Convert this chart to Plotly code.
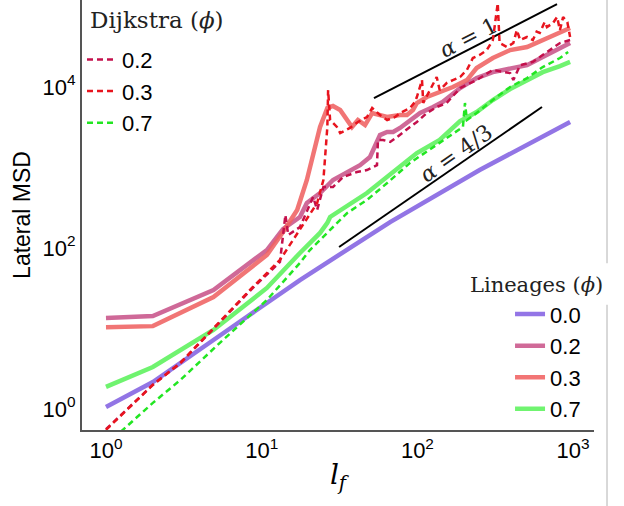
import plotly.graph_objects as go

# ---------------- data ----------------
# Lineages (solid, thick)
lin00_x = [1, 2, 4.9, 10.8, 17.6, 66.8, 251, 956]
lin00_y = [1.06, 2.16, 7.2, 20.7, 40, 210, 930, 3680]

lin02_x = [1, 2, 4.9, 10.8, 13.7, 17.6, 19.5, 23.7, 28.7, 35.4, 42.8, 49.6, 55, 57.5,
           63.9, 69.8, 77.3, 89.6, 104, 126, 145, 188, 240, 305, 394, 506, 638, 823, 956]
lin02_y = [13.5, 14.3, 30.1, 94.4, 172, 243, 362, 482, 700, 879, 1070, 1350, 2010, 2530,
           2760, 2760, 3100, 3890, 4750, 5640, 6510, 9720, 12900, 15300, 17200, 18700,
           23600, 30500, 35200]

lin03_x = [1, 2, 4.9, 10.8, 13.7, 16.9, 19.5, 21.4, 23.7, 26.4, 28.7, 31.9, 35.4, 38,
           41.5, 46.1, 51.2, 55.8, 63.9, 77.3, 85.7, 93.6, 99.2, 115, 139, 169, 208, 240,
           305, 394, 506, 638, 823, 956]
lin03_y = [10.4, 10.7, 24.6, 81.8, 158, 297, 700, 1510, 3190, 5480, 5810, 5180, 3890,
           3190, 3890, 3370, 4750, 4490, 4240, 4490, 4490, 5180, 6330, 7510, 8670, 10000,
           12200, 17200, 22900, 28800, 31400, 38300, 46900, 54100]

lin07_x = [1, 2, 4.9, 10.8, 17.6, 23.7, 26.4, 27.5, 47.4, 69.8, 99.2, 139, 188, 240,
           305, 394, 506, 638, 823, 956]
lin07_y = [1.88, 3.32, 9.58, 31.9, 86.7, 154, 205, 243, 482, 879, 1510, 2200, 3780,
           4890, 6900, 9440, 12200, 15300, 18200, 20500]

# Dijkstra (dashed)
dij02_x = [1, 2, 3, 5.64, 8.78, 13.1, 14.2, 14.8, 17.6, 21.4, 22.7, 24.9, 28.7, 30.4,
           33.4, 40.9, 47.4, 55, 55.8, 60.1, 66.8, 74, 80.8, 89.6, 99.2, 115, 133, 154,
           188, 240, 305, 354, 394, 413, 457, 551, 638, 743, 823, 956]
dij02_y = [0.56, 2.0, 3.7, 13.3, 32, 67, 257, 145, 182, 430, 297, 572, 572, 641, 762,
           879, 931, 1070, 2200, 2200, 2080, 2390, 2760, 3190, 3680, 4750, 5640, 6330,
           9720, 12200, 16300, 15300, 14900, 12200, 18700, 20500, 25000, 31400, 35200,
           38300]

dij03_x = [1, 2, 3, 5.64, 8.78, 13.1, 15.9, 19, 22.7, 24.9, 25.6, 26.4, 26.7, 27.5,
           30.4, 31.9, 36.9, 41.5, 47.4, 51.2, 57.5, 63.9, 71.9, 77.3, 89.6, 96.4, 99.2,
           107, 109, 120, 133, 139, 154, 169, 188, 208, 227, 251, 279, 305, 328, 337,
           376, 413, 435, 457, 506, 551, 583, 610, 657, 679, 743, 789, 823, 862, 918,
           956]
dij03_y = [0.55, 1.99, 3.73, 13.5, 32.8, 71, 126, 210, 362, 700, 1510, 3190, 9180,
           3890, 3190, 2680, 3100, 3680, 4240, 5480, 4490, 3890, 4240, 4750, 5480, 6510,
           7510, 12200, 6330, 9180, 13300, 9180, 11200, 12200, 13300, 16300, 22900,
           25000, 28800, 38300, 110000, 35200, 31400, 35200, 51000, 38300, 41800, 38300,
           48700, 46900, 64200, 55600, 62400, 74100, 51000, 74100, 64200, 41800]

dij07_x = [1, 2, 3, 5.64, 10.8, 17.6, 20.4, 27.5, 35.4, 47.4, 63.9, 89.6, 126, 169,
           196, 202, 208, 240, 305, 394, 506, 638, 823, 929]
dij07_y = [0.357, 1.19, 2.29, 7.2, 22.6, 65.2, 94.4, 167, 272, 395, 641, 1140, 1800,
           2680, 3190, 6330, 3890, 4750, 6900, 10000, 12900, 17700, 22900, 27200]

# guide lines (alpha = 1 and alpha = 4/3)
guide1_x = [52.6, 788]
guide1_y = [7300, 107000]
guide43_x = [31.4, 631]
guide43_y = [103, 5640]

lineage_names = ["0.0", "0.2", "0.3", "0.7"]
dijkstra_names = ["0.2", "0.3", "0.7"]

x_tickvals = [1, 10, 100, 1000]
x_ticktext = ["10<sup>0</sup>", "10<sup>1</sup>", "10<sup>2</sup>", "10<sup>3</sup>"]
y_tickvals = [1, 100, 10000]
y_ticktext = ["10<sup>0</sup>", "10<sup>2</sup>", "10<sup>4</sup>"]

# ---------------- figure ----------------
C_PURPLE = "#8462e2"
C_MAUVE = "#c9558a"
C_SALMON = "#f06262"
C_GREEN = "#5cf25c"
C_CRIMSON = "#c4104c"
C_RED = "#e8141e"
C_GREEN_D = "#22e622"

fig = go.Figure()

lineages = [(lin00_x, lin00_y, C_PURPLE), (lin02_x, lin02_y, C_MAUVE),
            (lin03_x, lin03_y, C_SALMON), (lin07_x, lin07_y, C_GREEN)]
for (x, y, c), n in zip(lineages, lineage_names):
    fig.add_trace(go.Scatter(x=x, y=y, mode="lines", name=n, legend="legend2",
                             line=dict(color=c, width=4.5), opacity=0.88))

for gx, gy in [(guide1_x, guide1_y), (guide43_x, guide43_y)]:
    fig.add_trace(go.Scatter(x=gx, y=gy, mode="lines", showlegend=False,
                             line=dict(color="black", width=2)))

dijkstra = [(dij02_x, dij02_y, C_CRIMSON), (dij03_x, dij03_y, C_RED),
            (dij07_x, dij07_y, C_GREEN_D)]
for (x, y, c), n in zip(dijkstra, dijkstra_names):
    fig.add_trace(go.Scatter(x=x, y=y, mode="lines", name=n, legend="legend",
                             line=dict(color=c, width=2.5, dash="6px,4px")))

SANS = "Liberation Sans"
SERIF = "DejaVu Serif"

fig.update_layout(
    template="none",
    width=624, height=506,
    margin=dict(l=82, r=30, t=0, b=76, pad=0),
    paper_bgcolor="white", plot_bgcolor="white",
    font=dict(family=SANS, size=22, color="black"),
    xaxis=dict(type="log", range=[-0.154, 3.134], showgrid=False, zeroline=False,
               automargin=False,
               showline=True, linecolor="#555555", linewidth=2, ticks="",
               tickmode="array", tickvals=x_tickvals, ticktext=x_ticktext,
               tickfont=dict(family=SANS, size=22, color="black"),
               title=dict(text="<i>l</i><sub><i>f</i></sub>", standoff=2,
                          font=dict(family=SERIF, size=28, color="black"))),
    yaxis=dict(type="log", range=[-0.261, 5.081], showgrid=False, zeroline=False,
               automargin=False,
               showline=True, linecolor="#555555", linewidth=2, ticks="",
               tickmode="array", tickvals=y_tickvals, ticktext=y_ticktext,
               tickfont=dict(family=SANS, size=22, color="black"),
               title=dict(text="Lateral MSD", standoff=6,
                          font=dict(family=SANS, size=23, color="black"))),
    legend=dict(x=0.0, y=0.91, xanchor="left", yanchor="top", bgcolor="rgba(0,0,0,0)",
                font=dict(family=SANS, size=22, color="black"), itemwidth=30,
                tracegroupgap=0),
    legend2=dict(x=0.836, y=0.318, xanchor="left", yanchor="top", bgcolor="rgba(0,0,0,0)",
                 font=dict(family=SANS, size=22, color="black"), itemwidth=30,
                 tracegroupgap=0),
    shapes=[
        dict(type="line", xref="paper", yref="paper", x0=1.0254, x1=1.0254,
             y0=1.0, y1=0.388, line=dict(color="#cccccc", width=1.5), layer="below"),
        dict(type="line", xref="paper", yref="paper", x0=1.0254, x1=1.0254,
             y0=0.291, y1=-0.177, line=dict(color="#cccccc", width=1.5), layer="below"),
    ],
    annotations=[
        dict(text="Dijkstra (<i>ϕ</i>)", xref="paper", yref="paper", x=0.0117, y=0.953,
             xanchor="left", yanchor="middle", showarrow=False,
             font=dict(family=SERIF, size=23, color="#222222")),
        dict(text="Lineages (<i>ϕ</i>)", xref="paper", yref="paper", x=1.0215, y=0.337,
             xanchor="right", yanchor="middle", showarrow=False,
             font=dict(family=SERIF, size=21, color="#222222")),
        dict(text="<i>α</i> = 1", xref="x", yref="y", x=2.331, y=4.609,
             showarrow=False, textangle=-27,
             font=dict(family=SERIF, size=22, color="#222222")),
        dict(text="<i>α</i> = 4/3", xref="x", yref="y", x=2.248, y=3.168,
             showarrow=False, textangle=-35,
             font=dict(family=SERIF, size=22, color="#222222")),
    ],
)

fig.write_html("out.html", config={"displayModeBar": False},
               post_script="document.body.style.margin='0';")
